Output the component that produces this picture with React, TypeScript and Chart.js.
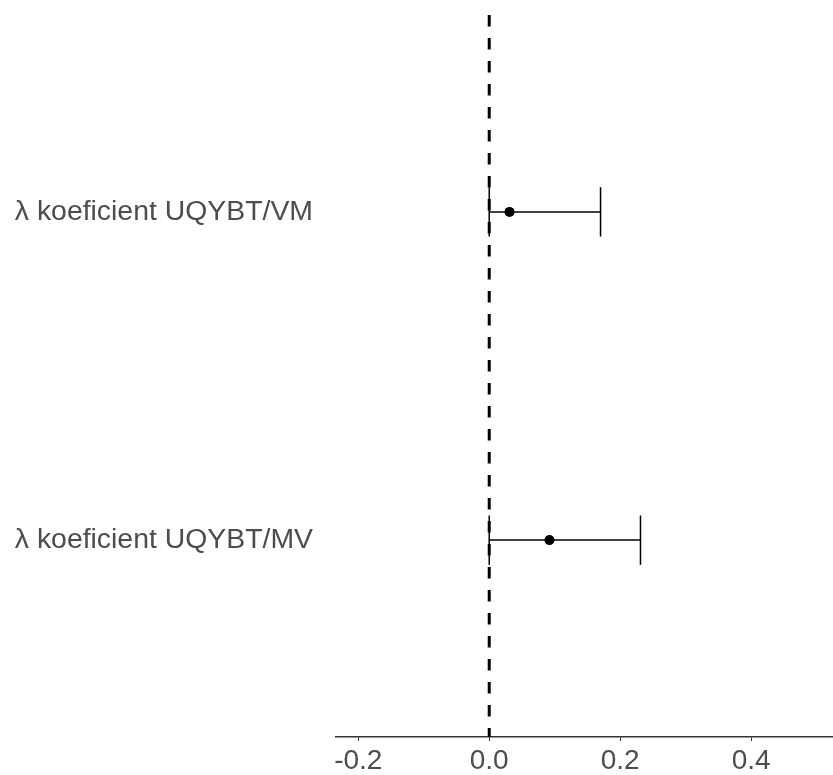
import React, { useEffect, useRef } from "react";
import { Chart, registerables } from "chart.js";

Chart.register(...registerables);

const categories = ["λ koeficient UQYBT/VM", "λ koeficient UQYBT/MV"];
const estimates = [0.031, 0.092];
const lowers = [0.0, 0.0];
const uppers = [0.17, 0.231];
const xTicks = [-0.2, 0.0, 0.2, 0.4];
const xMin = -0.234;
const xMax = 0.525;
const capHalf = 0.075;

export default function App() {
  const ref = useRef<HTMLCanvasElement | null>(null);

  useEffect(() => {
    document.body.style.margin = "0";
    const canvas = ref.current;
    if (!canvas) return;

    const rows = categories.map((_, i) => i + 1);
    const datasets: any[] = [];

    datasets.push({
      type: "line",
      data: [
        { x: 0, y: 0.4 },
        { x: 0, y: 2.6 },
      ],
      borderColor: "#000000",
      borderWidth: 3,
      borderDash: [11.5, 11.5],
      pointRadius: 0,
      fill: false,
    });

    rows.forEach((r, i) => {
      datasets.push({
        type: "line",
        data: [
          { x: lowers[i], y: r },
          { x: uppers[i], y: r },
        ],
        borderColor: "#000000",
        borderWidth: 1.5,
        pointRadius: 0,
        fill: false,
      });
      [lowers[i], uppers[i]].forEach((v) => {
        datasets.push({
          type: "line",
          data: [
            { x: v, y: r - capHalf },
            { x: v, y: r + capHalf },
          ],
          borderColor: "#000000",
          borderWidth: 1.5,
          pointRadius: 0,
          fill: false,
        });
      });
    });

    datasets.push({
      type: "scatter",
      data: rows.map((r, i) => ({ x: estimates[i], y: r })),
      backgroundColor: "#000000",
      borderColor: "#000000",
      pointRadius: 5,
      pointBorderWidth: 0,
    });

    const zeroPad = (scale: any) => {
      scale.paddingTop = 0;
      scale.paddingBottom = 0;
      scale.paddingLeft = 0;
      scale.paddingRight = 0;
    };

    const chart = new Chart(canvas, {
      type: "scatter",
      data: { datasets },
      options: {
        animation: false,
        responsive: false,
        layout: { autoPadding: false, padding: { top: 15, left: 0, right: 0, bottom: 0 } },
        plugins: { legend: { display: false }, tooltip: { enabled: false } },
        scales: {
          x: {
            type: "linear",
            min: xMin,
            max: xMax,
            afterBuildTicks: (scale: any) => {
              scale.ticks = xTicks.map((v) => ({ value: v }));
            },
            afterFit: (scale: any) => {
              scale.height = 38;
              zeroPad(scale);
            },
            grid: {
              display: true,
              drawOnChartArea: false,
              drawTicks: true,
              tickLength: 4,
              color: "#333333",
              lineWidth: 1,
            },
            border: { display: true, color: "#333333", width: 1.5 },
            ticks: {
              color: "#4d4d4d",
              font: { family: "Liberation Sans, Arial, sans-serif", size: 28 },
              padding: 3,
              maxRotation: 0,
              callback: (v: any) => Number(v).toFixed(1),
            },
          },
          y: {
            type: "linear",
            min: 0.4,
            max: 2.6,
            reverse: true,
            afterBuildTicks: (scale: any) => {
              scale.ticks = rows.map((v) => ({ value: v }));
            },
            afterFit: (scale: any) => {
              scale.width = 336;
              zeroPad(scale);
            },
            grid: { display: false, drawTicks: false },
            border: { display: false },
            ticks: {
              color: "#4d4d4d",
              font: { family: "Liberation Sans, Arial, sans-serif", size: 28.4 },
              padding: 23,
              callback: (v: any) => categories[Math.round(Number(v)) - 1] ?? "",
            },
          },
        },
      },
    });

    return () => chart.destroy();
  }, []);

  return <canvas ref={ref} width={833} height={775} style={{ display: "block" }} />;
}
